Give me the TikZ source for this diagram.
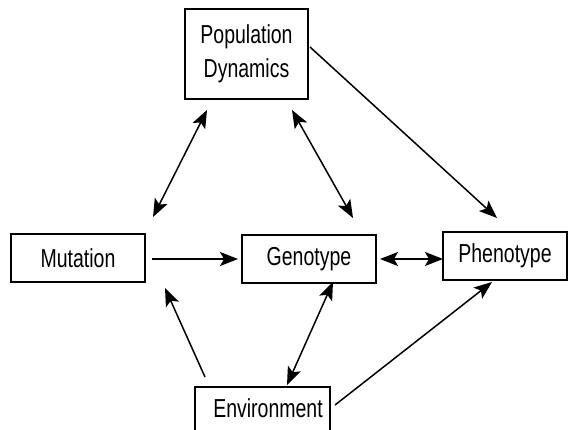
\documentclass[tikz,border=0pt]{standalone}
\usepackage{fontspec}
\setmainfont[FakeStretch=0.75]{Liberation Sans}
\usetikzlibrary{arrows.meta}
\begin{document}
\begin{tikzpicture}[x=1pt,y=-1pt,
  box/.style={draw,line width=1.2pt,inner sep=0pt,font=\fontsize{26}{30}\selectfont,align=center},
  conn/.style={line width=1.5pt,>={Stealth[length=18pt,width=14pt,inset=4pt]}}]
\useasboundingbox (0,0) rectangle (569,430);
\clip (0,0) rectangle (569,430);
\node[box,minimum width=123pt,minimum height=90pt] (pd) at (246.5,54) {Population\\[4pt]Dynamics};
\node[box,minimum width=134pt,minimum height=48pt] (mut) at (78,258) {Mutation};
\node[box,minimum width=134pt,minimum height=48pt] (geno) at (309,259) {Genotype};
\node[box,minimum width=124pt,minimum height=48pt] (phen) at (505,256) {Phenotype};
\node[box,minimum width=135pt,minimum height=66pt] (env) at (262.5,420) {};
\node[font=\fontsize{26}{30}\selectfont,inner sep=0pt] (envlabel) at (268,408) {Environment};
% connector end points
\coordinate (a1) at (207,110); \coordinate (a2) at (153,217);
\coordinate (b1) at (292,110); \coordinate (b2) at (353,218);
\coordinate (c1) at (310,47);  \coordinate (c2) at (497,218);
\coordinate (d1) at (152,259); \coordinate (d2) at (238,259);
\coordinate (e1) at (380,259); \coordinate (e2) at (443,259);
\coordinate (f1) at (205,377); \coordinate (f2) at (165,288);
\coordinate (g1) at (333,282); \coordinate (g2) at (287,385);
\coordinate (h1) at (335,405); \coordinate (h2) at (492,282);
\draw[conn,<->] (a1) -- (a2);
\draw[conn,<->] (b1) -- (b2);
\draw[conn,->] (c1) -- (c2);
\draw[conn,->] (d1) -- (d2);
\draw[conn,<->] (e1) -- (e2);
\draw[conn,->] (f1) -- (f2);
\draw[conn,<->] (g1) -- (g2);
\draw[conn,->] (h1) -- (h2);
\end{tikzpicture}
\end{document}
